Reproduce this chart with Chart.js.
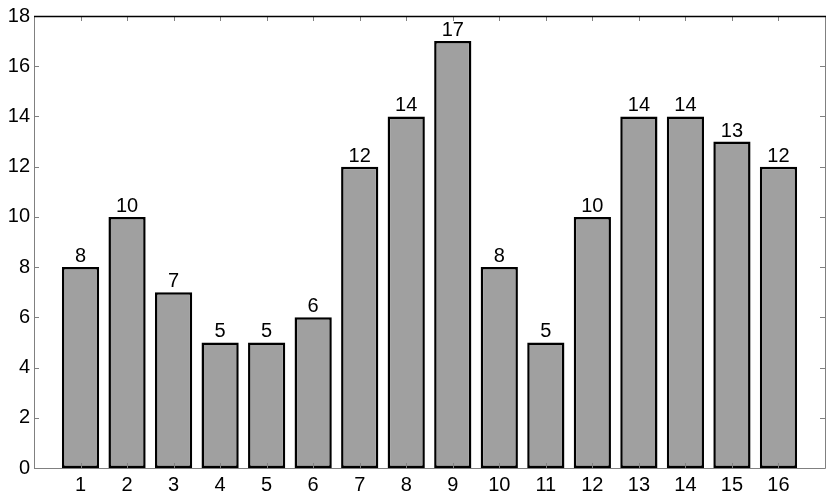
<!DOCTYPE html>
<html>
<head>
<meta charset="utf-8">
<script src="https://cdn.jsdelivr.net/npm/chart.js@4"></script>
<style>
html,body{margin:0;padding:0;background:#fff;}
#wrap{width:831px;height:497px;position:relative;}
</style>
</head>
<body>
<div id="wrap"><canvas id="c" width="831" height="497"></canvas></div>
<script>
const categories = [1,2,3,4,5,6,7,8,9,10,11,12,13,14,15,16];
const values = [8,10,7,5,5,6,12,14,17,8,5,10,14,14,13,12];
const yTicks = [0,2,4,6,8,10,12,14,16,18];

const FONT = 'Liberation Sans, Arial, sans-serif';

const framePlugin = {
  id: 'frame',
  afterDraw(chart) {
    const ctx = chart.ctx;
    const a = chart.chartArea;
    const xs = chart.scales.x, ys = chart.scales.y;
    ctx.save();
    // inward ticks
    ctx.strokeStyle = '#808080';
    ctx.lineWidth = 1;
    const tl = 5;
    categories.forEach(c => {
      const px = Math.round(xs.getPixelForValue(c)) + 0.5;
      ctx.beginPath();
      ctx.moveTo(px, a.bottom); ctx.lineTo(px, a.bottom - tl);
      ctx.moveTo(px, a.top); ctx.lineTo(px, a.top + tl);
      ctx.stroke();
    });
    yTicks.forEach(v => {
      const py = Math.round(ys.getPixelForValue(v)) + 0.5;
      ctx.beginPath();
      ctx.moveTo(a.left, py); ctx.lineTo(a.left + tl, py);
      ctx.moveTo(a.right, py); ctx.lineTo(a.right - tl, py);
      ctx.stroke();
    });
    // frame
    ctx.strokeStyle = '#808080';
    ctx.beginPath();
    ctx.moveTo(Math.round(a.left)+0.5, a.top);
    ctx.lineTo(Math.round(a.left)+0.5, Math.round(a.bottom)+0.5);
    ctx.lineTo(Math.round(a.right)+0.5, Math.round(a.bottom)+0.5);
    ctx.lineTo(Math.round(a.right)+0.5, a.top);
    ctx.stroke();
    ctx.strokeStyle = '#000';
    ctx.lineWidth = 1.5;
    ctx.beginPath();
    ctx.moveTo(a.left, Math.round(a.top)+0.5);
    ctx.lineTo(a.right+1, Math.round(a.top)+0.5);
    ctx.stroke();
    // value labels
    const meta = chart.getDatasetMeta(0);
    ctx.fillStyle = '#000';
    ctx.font = '20px ' + FONT;
    ctx.textAlign = 'center';
    ctx.textBaseline = 'alphabetic';
    meta.data.forEach((bar, i) => {
      ctx.fillText(String(values[i]), bar.x, bar.y - 5);
    });
    ctx.restore();
  }
};

new Chart(document.getElementById('c'), {
  type: 'bar',
  data: {
    datasets: [{
      data: categories.map((c, i) => ({x: c, y: values[i]})),
      backgroundColor: '#a0a0a0',
      borderColor: '#000',
      borderWidth: 2.5,
      borderSkipped: false,
      barPercentage: 0.8,
      categoryPercentage: 1.0
    }]
  },
  options: {
    responsive: false,
    animation: false,
    layout: { padding: { top: 15, right: 6, left: 0, bottom: 0 } },
    plugins: { legend: { display: false }, tooltip: { enabled: false } },
    scales: {
      x: {
        type: 'linear',
        offset: false,
        min: 0, max: 17,
        afterBuildTicks(s) { s.ticks = categories.map(v => ({value: v})); },
        afterFit(s) { s.height = 29; },
        grid: { display: false, drawTicks: false, offset: false },
        border: { display: false },
        ticks: { color: '#000', font: { family: FONT, size: 20 }, padding: 5, maxRotation: 0, autoSkip: false }
      },
      y: {
        min: 0, max: 18,
        afterBuildTicks(s) { s.ticks = yTicks.map(v => ({value: v})); },
        afterFit(s) { s.width = 34; },
        grid: { display: false, drawTicks: false },
        border: { display: false },
        ticks: { color: '#000', font: { family: FONT, size: 20 }, padding: 4 }
      }
    }
  },
  plugins: [framePlugin]
});
</script>
</body>
</html>
